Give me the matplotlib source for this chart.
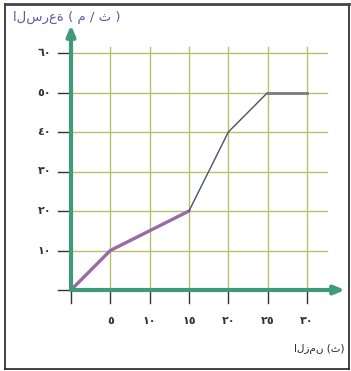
import matplotlib
matplotlib.use("Agg")
import matplotlib.pyplot as plt

# data
time_s = [0, 5, 15, 20, 25, 30]
speed = [0, 10, 20, 40, 50, 50]
x_ticks = [0, 5, 10, 15, 20, 25, 30]
x_tick_labels = ["", "٥", "١٠", "١٥", "٢٠", "٢٥", "٣٠"]
y_ticks = [0, 10, 20, 30, 40, 50, 60]
y_tick_labels = ["", "١٠", "٢٠", "٣٠", "٤٠", "٥٠", "٦٠"]
x_title = "الزمن (ث)"
y_title = "السرعة ( م / ث )"

plt.rcParams['font.family'] = ['DejaVu Sans']

fig = plt.figure(figsize=(3.51, 3.71), dpi=100)
W, H = 351, 371
ax = fig.add_axes([5 / W, (H - 369) / H, (349 - 5) / W, (369 - 4) / H])

px_x = 7.867
px_y = 3.95
ax.set_xlim(-(71 - 5) / px_x, (349 - 71) / px_x)
ax.set_ylim(-(369 - 290) / px_y, (290 - 4) / px_y)

for s in ax.spines.values():
    s.set_color('#222222')
    s.set_linewidth(1.2)
ax.spines['top'].set_linewidth(2.0)
ax.spines['top'].set_color('#444444')
ax.set_xticks([])
ax.set_yticks([])

grid_c = '#b9c06c'
grid_top = 61.5
grid_right = 32.6
for xv in x_ticks[1:]:
    ax.plot([xv, xv], [0, grid_top], color=grid_c, lw=1.0, zorder=1)
for yv in y_ticks[1:]:
    ax.plot([0, grid_right], [yv, yv], color=grid_c, lw=1.0, zorder=1)

# ticks
tick_len_x = 13 / px_y
tick_len_y = 13 / px_x
for xv, lab in zip(x_ticks, x_tick_labels):
    ax.plot([xv, xv], [0, -tick_len_x], color='#333333', lw=1.0, zorder=2)
    if lab:
        ax.text(xv, -(321 - 290) / px_y, lab, ha='center', va='center',
                fontsize=8, color='#333333', fontweight='bold')
for yv, lab in zip(y_ticks, y_tick_labels):
    ax.plot([-tick_len_y, 0], [yv, yv], color='#333333', lw=1.0, zorder=2)
    if lab:
        ax.text(-(71 - 51) / px_x, yv, lab, ha='right', va='center',
                fontsize=8, color='#333333', fontweight='bold')

# axes arrows
axis_c = '#3d9a7a'
ax.annotate('', xy=((345 - 71) / px_x, 0), xytext=(0, 0),
            arrowprops=dict(arrowstyle='-|>,head_length=0.6,head_width=0.25',
                            color=axis_c, lw=3.0, shrinkA=0, shrinkB=0), zorder=4)
ax.annotate('', xy=(0, (290 - 25) / px_y), xytext=(0, 0),
            arrowprops=dict(arrowstyle='-|>,head_length=0.6,head_width=0.25',
                            color=axis_c, lw=3.0, shrinkA=0, shrinkB=0), zorder=4)

# data line segments
ax.plot(time_s[0:3], speed[0:3], color='#9a6aa8', lw=2.4, zorder=3,
        solid_capstyle='round')
ax.plot(time_s[2:5], speed[2:5], color='#4c4f72', lw=1.0, zorder=3)
ax.plot(time_s[4:6], speed[4:6], color='#7a7a80', lw=2.0, zorder=3)

# titles
ax.text((120 - 71) / px_x, (290 - 17) / px_y, y_title, ha='right',
        va='center', fontsize=9.5, color='#5a5ca8')
ax.text((345 - 71) / px_x, -(349 - 290) / px_y, x_title, ha='right',
        va='center', fontsize=7.5, color='#222222')

fig.savefig('out.png', dpi=100)
